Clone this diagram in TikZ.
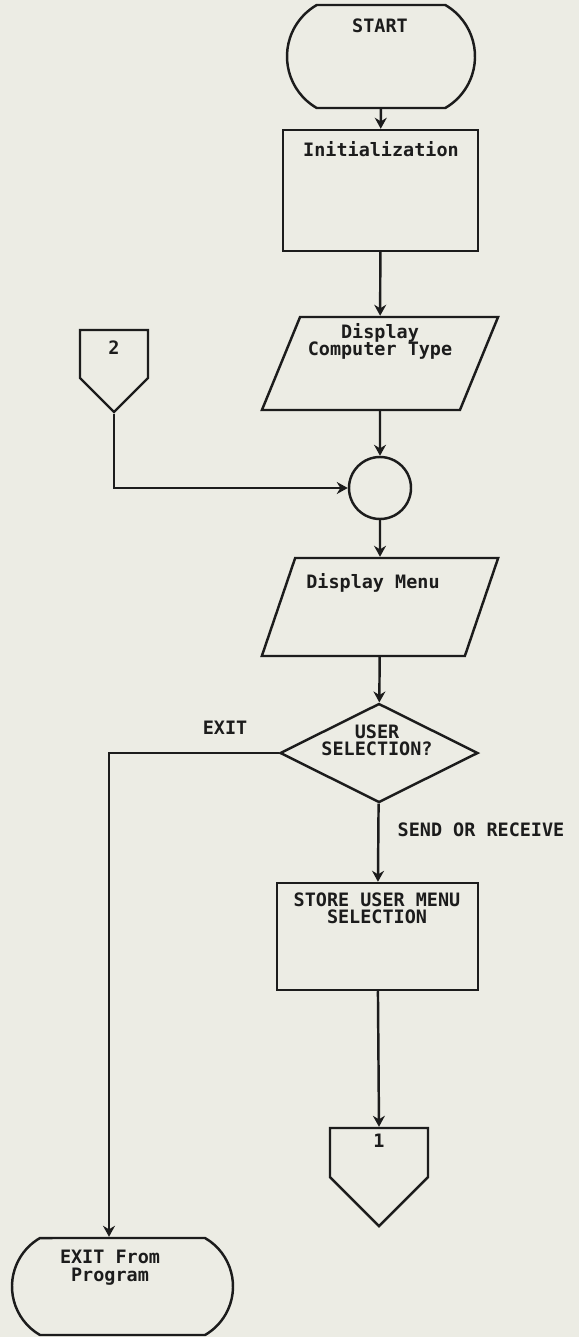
\documentclass[tikz,border=0pt]{standalone}
\usepackage{fontspec}
\setmonofont{DejaVu Sans Mono}
\usepackage{tikz}
\usetikzlibrary{positioning,arrows.meta,shapes.geometric,shapes.misc,shapes.symbols}
\definecolor{paper}{HTML}{ECECE4}
\definecolor{ink}{HTML}{1C1C1C}

\begin{document}
\begin{tikzpicture}[
  x=0.2mm, y=-0.2mm,
  font=\ttfamily\bfseries\fontsize{10.5}{10}\selectfont,
  shp/.style={draw=ink, line width=1.4pt, inner sep=0pt},
  term/.style={shp, rounded rectangle, rounded rectangle arc length=120},
  proc/.style={shp, rectangle},
  io/.style={shp, rectangle, transform shape, xslant=#1},
  dec/.style={shp, diamond},
  joint/.style={shp, circle},
  offpg/.style={shp, signal, signal to=south, signal pointer angle=90},
  txt/.style={inner sep=0pt, anchor=north, align=center, text=ink},
  lbl/.style={inner sep=0pt, text=ink},
  ar/.style={-{Stealth[length=2.2mm,width=2.4mm]}, draw=ink, line width=1.4pt}
]
\fill[paper] (0,0) rectangle (579,1337);
\useasboundingbox (0,0) rectangle (579,1337);

\node[term, minimum width=37.6mm, minimum height=20.6mm] (start) at (381,56.5) {};
\node[proc, minimum width=39mm, minimum height=24.2mm] (init) at (380.5,190.5) {};
\node[io=0.41, minimum width=39.6mm, minimum height=18.6mm] (disp1) at (380,363.5) {};
\node[joint, minimum size=12.4mm] (circ) at (380,488) {};
\node[io=0.34, minimum width=40.6mm, minimum height=19.6mm] (disp2) at (380,607) {};
\node[dec, minimum width=39.6mm, minimum height=19.8mm] (sel) at (379,753) {};
\node[proc, minimum width=40.2mm, minimum height=21.4mm] (store) at (377.5,936.5) {};
\node[offpg, minimum width=19.6mm, minimum height=9.8mm] (con1) at (379,1152.5) {};
\node[offpg, minimum width=13.6mm, minimum height=9.6mm] (con2) at (114,354) {};
\node[term, minimum width=44.2mm, minimum height=19.4mm] (exit) at (122.5,1286.5) {};

\node[txt] (tstart) at (380,18) {START};
\node[txt] (tinit) at (381,141) {Initialization};
\node[txt] (tdisp1) at (380,323) {Display\\Computer Type};
\node[txt] (tdisp2) at (373,573) {Display Menu};
\node[txt] (tsel) at (377,724) {USER\\SELECTION?};
\node[txt] (tstore) at (377,892) {STORE USER MENU\\SELECTION};
\node[txt] (tcon1) at (379,1134) {1};
\node[txt] (tcon2) at (114,340) {2};
\node[txt] (texit) at (110,1250) {EXIT From\\Program};
\node[lbl] (lexit) at (225,728) {EXIT};
\node[lbl] (lsend) at (481,830) {SEND OR RECEIVE};

\draw[ar] (start) -- (init);
\draw[ar] (init) -- (disp1);
\draw[ar] (disp1) -- (circ);
\draw[ar] (con2.south) |- (circ.west);
\draw[ar] (circ) -- (disp2);
\draw[ar] (disp2) -- (sel);
\draw[ar] (sel) -- (store);
\draw[ar] (store) -- (con1.north);
\coordinate (turn) at (109,753);
\draw[ar] (sel.west) -- (turn) -- (turn |- exit.north);
\end{tikzpicture}
\end{document}
